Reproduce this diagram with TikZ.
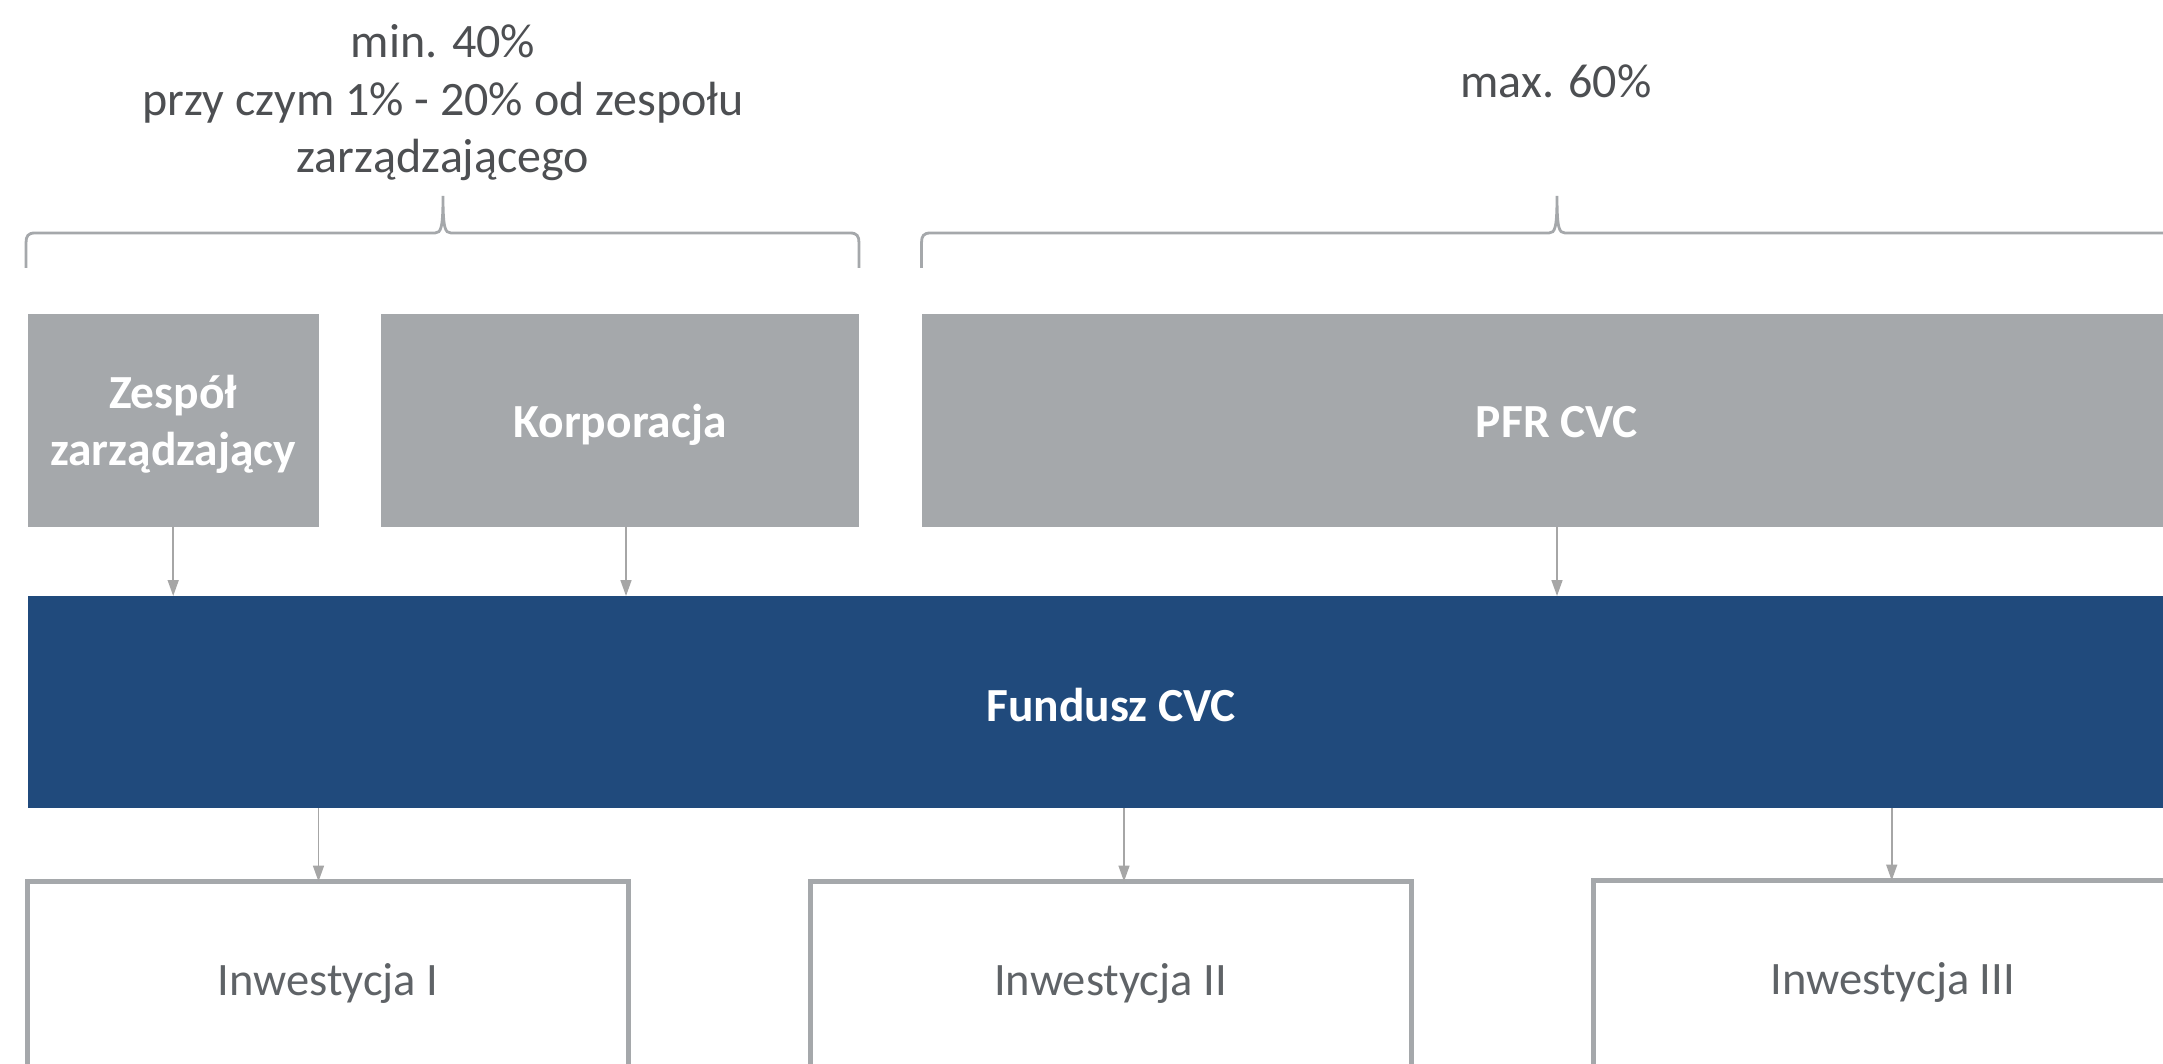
\documentclass[tikz,border=0pt]{standalone}
\usepackage{fontspec}
\setmainfont{Carlito}
\usetikzlibrary{arrows.meta}
\definecolor{boxgrey}{HTML}{A5A8AB}
\definecolor{fundblue}{HTML}{204A7C}
\definecolor{toptext}{HTML}{4D4F52}
\definecolor{invtext}{HTML}{5F6367}
\definecolor{arrgrey}{HTML}{A6A6A6}
\tikzset{
  greybox/.style={fill=boxgrey, draw=none, inner sep=0pt, outer sep=0pt,
    text=white, font=\fontsize{47.5}{57}\selectfont\bfseries,
    text height=44pt, text depth=10pt},
  bluebox/.style={fill=fundblue, draw=none, inner sep=0pt, outer sep=0pt,
    text=white, font=\fontsize{47.5}{57}\selectfont\bfseries,
    text height=46pt, text depth=8pt},
  invbox/.style={fill=white, draw=boxgrey, line width=5pt, inner sep=0pt, outer sep=0pt,
    text=invtext, font=\fontsize{46.5}{57}\selectfont,
    text height=37pt, text depth=10pt},
  toplabel/.style={text=toptext, font=\fontsize{48}{57.5}\selectfont, align=center, inner sep=0pt},
  arr/.style={draw=arrgrey, line width=1.6pt, -{Triangle[length=16pt,width=11pt]}},
  bracestyle/.style={draw=boxgrey, line width=2.8pt, line cap=butt},
}
\begin{document}
\begin{tikzpicture}[x=1pt,y=-1pt]
\useasboundingbox (0,0) rectangle (2163,1064);
\clip (0,0) rectangle (2163,1064);
\fill[white] (0,0) rectangle (2163,1064);

% top row
\node[greybox, minimum width=291pt, minimum height=212.5pt, text height=40pt, text depth=65.4pt] (zesp) at (173.2,420.7)
  {\begin{tabular}[t]{@{}c@{}}Zespół\\zarządzający\end{tabular}};
\node[greybox, minimum width=478.7pt, minimum height=212.5pt] (korp) at (620,420.7) {Korporacja};
\node[greybox, minimum width=1271pt, minimum height=212.5pt] (pfr) at (1557,420.7) {PFR CVC};

% fund
\node[bluebox, minimum width=2167pt, minimum height=212pt] (fund) at (1111,702) {Fundusz CVC};

% investments
\node[invbox, minimum width=601pt, minimum height=200pt] (inv1) at (328,981.5) {Inwestycja I};
\node[invbox, minimum width=601pt, minimum height=200pt] (inv2) at (1110.5,981.5) {Inwestycja II};
\node[invbox, minimum width=600pt, minimum height=200pt] (inv3) at (1893,980.5) {Inwestycja III};

% arrows
\draw[arr] (zesp.south) -- (zesp.south |- fund.north);
\draw[arr] ([xshift=6pt]korp.south) -- ([xshift=6pt]korp.south |- fund.north);
\draw[arr] (pfr.south) -- (pfr.south |- fund.north);
\draw[arr] ([xshift=-9.5pt]inv1.north |- fund.south) -- ([xshift=-9.5pt]inv1.north);
\draw[arr] ([xshift=13.5pt]inv2.north |- fund.south) -- ([xshift=13.5pt]inv2.north);
\draw[arr] ([xshift=-1.3pt]inv3.north |- fund.south) -- ([xshift=-1.3pt]inv3.north);

% braces
\draw[bracestyle] (26,268) -- (26,243) .. controls (26,236) and (28,233) .. (35,233)
  -- (435,233) .. controls (441,233) and (443,228) .. (443,196)
  .. controls (443,228) and (445,233) .. (451,233)
  -- (850,233) .. controls (857,233) and (859,236) .. (859,243) -- (859,268);
\draw[bracestyle] (921.5,268) -- (921.5,243) .. controls (921.5,236) and (923.5,233) .. (930.5,233)
  -- (1549,233) .. controls (1555,233) and (1557,228) .. (1557,196)
  .. controls (1557,228) and (1559,233) .. (1565,233)
  -- (2184,233) .. controls (2191,233) and (2193,236) .. (2193,243) -- (2193,268);

% labels
\node[toplabel] (lbl1) at (443,103) {min. 40\%\\przy czym 1\% - 20\% od zespołu\\zarządzającego};
\node[toplabel, anchor=base] (lbl2) at (1556,98) {max. 60\%};
\end{tikzpicture}
\end{document}
